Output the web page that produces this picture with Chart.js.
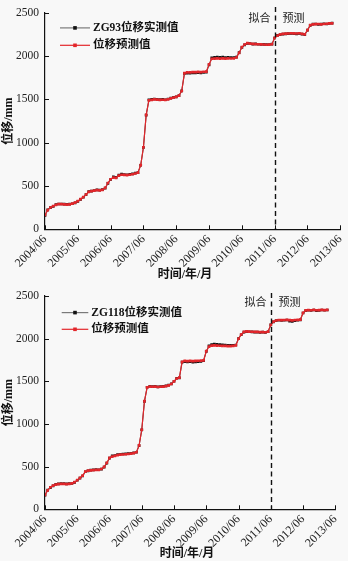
<!DOCTYPE html>
<html><head><meta charset="utf-8">
<script src="https://cdn.jsdelivr.net/npm/chart.js@4.4.0/dist/chart.umd.min.js"></script>
<style>
html,body{margin:0;padding:0;background:#fff;width:362px;height:566px;overflow:hidden;}
#bg{position:absolute;left:0;top:0;width:348px;height:561px;background:#f8f8f8;}
canvas{position:absolute;left:0;}
#c1{top:0}
#c2{top:283px}
</style></head><body>
<div id="bg"></div>
<canvas id="c1" width="362" height="283"></canvas>
<canvas id="c2" width="362" height="283"></canvas>
<script>
// ---- data ----
const yearTicks = ['2004/06','2005/06','2006/06','2007/06','2008/06','2009/06','2010/06','2011/06','2012/06','2013/06'];
const splitMonth = 84; // 2011/06 : boundary between fitting and prediction
const phaseLabels = ['拟合','预测'];
const xTitle = '时间/年/月';
const yTitle = '位移/mm';
const names93 = ['ZG93位移实测值','位移预测值'];
const names118 = ['ZG118位移实测值','位移预测值'];

// monthly values starting 2004/06
const zg93Measured = [160,225,250,265,285,292,292,290,288,290,295,305,322,345,370,400,435,442,448,455,452,458,475,530,575,605,600,625,638,632,630,635,640,648,655,740,945,1320,1495,1500,1505,1502,1498,1500,1497,1505,1515,1525,1530,1545,1600,1800,1805,1805,1808,1806,1810,1808,1812,1815,1900,1980,1988,1990,1988,1990,1985,1986,1984,1985,1990,2040,2100,2130,2148,2145,2140,2142,2138,2135,2137,2133,2135,2140,2210,2240,2250,2255,2258,2260,2262,2260,2258,2262,2255,2250,2300,2355,2370,2372,2368,2370,2375,2372,2378,2382];
const zg93Predicted = [165,222,252,268,283,290,290,288,286,289,296,308,325,348,372,402,432,440,446,452,450,456,478,535,578,598,595,620,630,628,626,630,636,645,655,742,948,1322,1490,1495,1500,1498,1495,1497,1495,1502,1512,1522,1530,1545,1598,1805,1812,1812,1815,1815,1818,1816,1820,1822,1905,1970,1972,1975,1972,1975,1972,1975,1973,1975,1985,2038,2105,2135,2150,2146,2142,2140,2138,2136,2135,2132,2134,2138,2212,2238,2252,2258,2260,2262,2265,2263,2262,2265,2258,2252,2302,2358,2368,2370,2372,2368,2372,2375,2378,2380];
const zg118Measured = [166,225,255,275,293,298,300,300,298,300,302,315,340,365,390,440,450,458,462,465,463,470,495,540,600,625,630,640,645,648,650,652,655,660,668,745,930,1265,1430,1440,1438,1440,1435,1438,1440,1445,1455,1470,1500,1535,1540,1725,1730,1728,1730,1725,1728,1730,1732,1740,1850,1915,1930,1935,1932,1930,1928,1925,1922,1920,1922,1925,2000,2045,2075,2082,2080,2078,2075,2076,2073,2075,2072,2080,2160,2195,2210,2215,2212,2215,2218,2205,2200,2210,2215,2220,2300,2328,2332,2330,2335,2328,2330,2335,2332,2335];
const zg118Predicted = [170,222,258,278,290,296,298,297,296,298,303,318,342,368,395,442,452,456,460,462,462,472,498,545,602,618,625,635,640,642,645,648,652,658,668,748,932,1268,1428,1438,1436,1438,1433,1436,1438,1443,1452,1468,1498,1532,1543,1728,1738,1736,1738,1735,1738,1740,1742,1745,1852,1905,1918,1920,1918,1916,1915,1914,1912,1912,1915,1920,1998,2048,2078,2085,2082,2080,2078,2078,2076,2076,2074,2082,2162,2198,2212,2218,2216,2218,2220,2216,2214,2218,2220,2222,2302,2330,2334,2332,2336,2332,2333,2336,2334,2336];

const SERIF = "'Liberation Serif','Noto Sans CJK SC',serif";
const RED = '#e3262b';

const decor = {
  id: 'decor',
  afterDraw(chart) {
    const o = chart.options.plugins.decor;
    const {ctx, chartArea: a, scales: {x, y}} = chart;
    ctx.save();
    // inward tick marks
    ctx.strokeStyle = '#111'; ctx.lineWidth = 1;
    x.ticks.forEach(t => {
      const px = Math.round(x.getPixelForValue(t.value)) + 0.5;
      ctx.beginPath(); ctx.moveTo(px, a.bottom); ctx.lineTo(px, a.bottom - 4); ctx.stroke();
    });
    y.ticks.forEach(t => {
      const py = Math.round(y.getPixelForValue(t.value)) + 0.5;
      ctx.beginPath(); ctx.moveTo(a.left, py); ctx.lineTo(a.left + 4, py); ctx.stroke();
    });
    // dashed split line
    const sx = Math.round(x.getPixelForValue(splitMonth)) + 0.5;
    ctx.setLineDash([5, 3.5]); ctx.lineWidth = 1.4; ctx.strokeStyle = '#111';
    ctx.beginPath(); ctx.moveTo(sx, a.top - o.dashTop); ctx.lineTo(sx, a.bottom); ctx.stroke();
    ctx.setLineDash([]);
    // phase labels
    ctx.fillStyle = '#222'; ctx.font = "11px " + SERIF; ctx.textBaseline = 'middle';
    ctx.textAlign = 'right'; ctx.fillText(phaseLabels[0], sx - 5, a.top + o.phaseY);
    ctx.textAlign = 'left'; ctx.fillText(phaseLabels[1], sx + 7, a.top + o.phaseY);
    // legend
    ctx.font = "bold 11.5px " + SERIF;
    chart.data.datasets.forEach((ds, i) => {
      const ly = a.top + o.legY[i];
      ctx.strokeStyle = ds.legendLine; ctx.lineWidth = 1.2;
      ctx.beginPath(); ctx.moveTo(o.legX0, ly); ctx.lineTo(o.legX1, ly); ctx.stroke();
      ctx.fillStyle = ds.pointBackgroundColor;
      const mx = (o.legX0 + o.legX1) / 2;
      ctx.fillRect(mx - 1.8, ly - 1.8, 3.6, 3.6);
      ctx.fillStyle = '#111'; ctx.textAlign = 'left';
      ctx.fillText(ds.label, o.legX1 + 3, ly);
    });
    // axis titles
    ctx.font = "bold 12px " + SERIF; ctx.fillStyle = '#111'; ctx.textAlign = 'center';
    ctx.fillText(xTitle, o.xTitleX, o.xTitleY);
    ctx.translate(9, (a.top + a.bottom) / 2); ctx.rotate(-Math.PI / 2);
    ctx.fillText(yTitle, 0, 0);
    ctx.restore();
  }
};

function makeChart(id, names, measured, predicted, p) {
  const H = 283;
  return new Chart(document.getElementById(id), {
    type: 'line',
    data: {
      datasets: [
        { label: names[0], data: measured.map((v, i) => ({x: i, y: v})), borderColor: '#444', legendLine: '#7a7a7a',
          borderWidth: 1.1, pointStyle: 'rect', pointRadius: 1.9, pointBackgroundColor: '#111', pointBorderColor: '#111', pointBorderWidth: 0, order: 1 },
        { label: names[1], data: predicted.map((v, i) => ({x: i, y: v})), borderColor: RED, legendLine: RED,
          borderWidth: 1.2, pointStyle: 'rect', pointRadius: 1.9, pointBackgroundColor: RED, pointBorderColor: RED, pointBorderWidth: 0, order: 0 }
      ]
    },
    options: {
      responsive: false, animation: false, events: [],
      layout: { padding: { top: p.top, right: p.right, left: 0, bottom: 0 } },
      plugins: { legend: { display: false }, tooltip: { enabled: false }, decor: p },
      scales: {
        x: { type: 'linear', min: 0, max: 108,
          afterFit: s => { s.height = H - p.bottom; },
          grid: { display: true, drawOnChartArea: false, drawTicks: false },
          border: { display: true, color: '#111', width: 1.2 },
          ticks: { stepSize: 12, autoSkip: false, maxRotation: 45, minRotation: 45, padding: 3, color: '#222',
            font: { family: SERIF, size: 12 }, callback: v => yearTicks[v / 12] ?? '' } },
        y: { min: 0, max: 2500,
          afterFit: s => { s.width = 45; },
          grid: { display: true, drawOnChartArea: false, drawTicks: false },
          border: { display: true, color: '#111', width: 1.2 },
          ticks: { stepSize: 500, padding: 6, color: '#222', font: { family: SERIF, size: 11.5 }, callback: v => String(v) } }
      }
    },
    plugins: [decor]
  });
}

makeChart('c1', names93, zg93Measured, zg93Predicted,
  { top: 9.3, right: 21.7, bottom: 229.3, dashTop: 6, phaseY: 6.7, legX0: 60, legX1: 90, legY: [15, 32.4], xTitleX: 185, xTitleY: 275 });
makeChart('c2', names118, zg118Measured, zg118Predicted,
  { top: 10.3, right: 26.7, bottom: 226.3, dashTop: 3, phaseY: 7.4, legX0: 61.7, legX1: 88.3, legY: [16.7, 33.4], xTitleX: 187, xTitleY: 271 });
</script>
</body></html>
